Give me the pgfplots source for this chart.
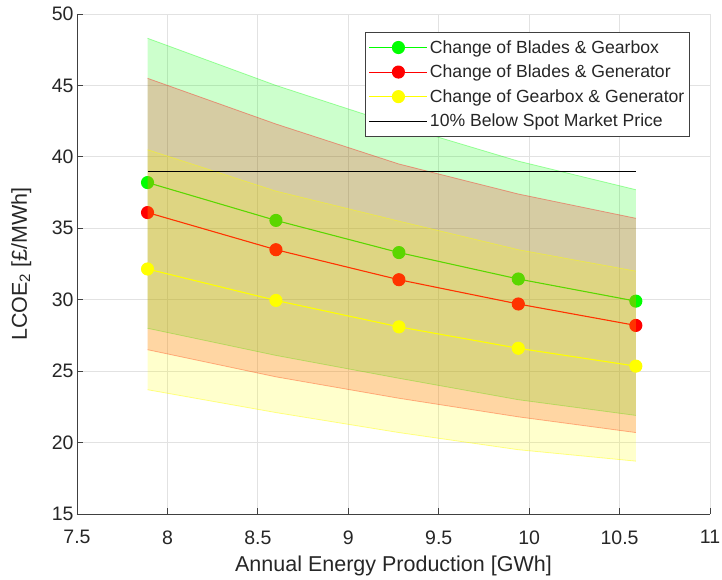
\documentclass[border=0pt]{standalone}
\usepackage{fontspec}
\setmainfont{Liberation Sans}
\usepackage{pgfplots}
\pgfplotsset{compat=1.18}
\definecolor{axgray}{RGB}{64,64,64}
\definecolor{txtgray}{RGB}{38,38,38}
\definecolor{gridgray}{RGB}{226,226,226}
\definecolor{mgreen}{RGB}{0,255,0}
\definecolor{mred}{RGB}{255,0,0}
\definecolor{myellow}{RGB}{255,255,0}
\begin{document}
\begin{tikzpicture}
\path[use as bounding box] (-77pt,-66pt) rectangle (645pt,514pt);
\begin{axis}[
  at={(0pt,0pt)}, anchor=south west,
  scale only axis, width=633pt, height=500pt,
  xmin=7.5, xmax=11, ymin=15, ymax=50,
  xtick={7.5,8,8.5,9,9.5,10,10.5,11}, ytick={15,20,25,30,35,40,45,50},
  axis lines=left,
  axis line style={draw=axgray, line width=0.8pt, -},
  tick align=inside, major tick length=6pt,
  tick style={axgray, line width=0.8pt},
  grid=major, major grid style={gridgray, line width=0.8pt},
  clip marker paths=true,
  /pgf/number format/assume math mode=true,
  ticklabel style={font=\fontsize{19.5}{20}\selectfont, text=txtgray},
  xticklabel style={yshift=-13pt},
  xlabel={Annual Energy Production [GWh]},
  ylabel={LCOE\textsubscript{2} [£/MWh]},
  label style={font=\fontsize{21.5}{22}\selectfont, text=txtgray},
  xlabel style={at={(axis description cs:0.5,-0.104)}, anchor=center},
  ylabel style={at={(axis description cs:-0.088,0.5)}, anchor=center},
  legend style={at={(rel axis cs:0.968,0.964)}, anchor=north east,
    draw=axgray, fill=white, line width=0.8pt,
    font=\fontsize{17.6}{21}\selectfont, text=txtgray,
    row sep=6.3pt, inner ysep=6pt, cells={anchor=west}},
  legend image code/.code={\draw[mark repeat=2, mark phase=2] plot coordinates {(0pt,0pt) (29pt,0pt) (58pt,0pt)};},
]
% green series and band
\addplot[color=mgreen, line width=1.1pt, mark=*, mark size=6pt,
  mark options={fill=mgreen, draw=none}]
  coordinates {(7.89,38.2) (8.6,35.55) (9.28,33.3) (9.94,31.45) (10.59,29.9)};
\addlegendentry{Change of Blades \& Gearbox}
\addplot[draw=none, fill=mgreen, fill opacity=0.2, forget plot]
  coordinates {(7.89,48.3) (8.6,45.0) (9.28,42.2) (9.94,39.7) (10.59,37.7)
               (10.59,21.9) (9.94,23.0) (9.28,24.5) (8.6,26.1) (7.89,28.0)};
\addplot[color=mgreen, opacity=0.35, line width=0.8pt, forget plot]
  coordinates {(7.89,48.3) (8.6,45.0) (9.28,42.2) (9.94,39.7) (10.59,37.7)};
\addplot[color=mgreen, opacity=0.35, line width=0.8pt, forget plot]
  coordinates {(7.89,28.0) (8.6,26.1) (9.28,24.5) (9.94,23.0) (10.59,21.9)};
% red series and band
\addplot[color=mred, line width=1.1pt, mark=*, mark size=6pt,
  mark options={fill=mred, draw=none}]
  coordinates {(7.89,36.1) (8.6,33.5) (9.28,31.4) (9.94,29.7) (10.59,28.2)};
\addlegendentry{Change of Blades \& Generator}
\addplot[draw=none, fill=mred, fill opacity=0.2, forget plot]
  coordinates {(7.89,45.5) (8.6,42.3) (9.28,39.5) (9.94,37.4) (10.59,35.7)
               (10.59,20.7) (9.94,21.8) (9.28,23.1) (8.6,24.6) (7.89,26.5)};
\addplot[color=mred, opacity=0.35, line width=0.8pt, forget plot]
  coordinates {(7.89,45.5) (8.6,42.3) (9.28,39.5) (9.94,37.4) (10.59,35.7)};
\addplot[color=mred, opacity=0.35, line width=0.8pt, forget plot]
  coordinates {(7.89,26.5) (8.6,24.6) (9.28,23.1) (9.94,21.8) (10.59,20.7)};
% yellow series and band
\addplot[color=myellow, line width=1.1pt, mark=*, mark size=6pt,
  mark options={fill=myellow, draw=none}]
  coordinates {(7.89,32.15) (8.6,29.95) (9.28,28.1) (9.94,26.6) (10.59,25.35)};
\addlegendentry{Change of Gearbox \& Generator}
\addplot[draw=none, fill=myellow, fill opacity=0.2, forget plot]
  coordinates {(7.89,40.5) (8.6,37.6) (9.28,35.5) (9.94,33.5) (10.59,32.0)
               (10.59,18.7) (9.94,19.5) (9.28,20.7) (8.6,22.1) (7.89,23.7)};
\addplot[color=myellow, opacity=0.45, line width=0.8pt, forget plot]
  coordinates {(7.89,40.5) (8.6,37.6) (9.28,35.5) (9.94,33.5) (10.59,32.0)};
\addplot[color=myellow, opacity=0.45, line width=0.8pt, forget plot]
  coordinates {(7.89,23.7) (8.6,22.1) (9.28,20.7) (9.94,19.5) (10.59,18.7)};
% threshold line
\addplot[color=black, line width=0.8pt] coordinates {(7.89,39) (10.59,39)};
\addlegendentry{10\% Below Spot Market Price}
\end{axis}
\end{tikzpicture}
\end{document}
